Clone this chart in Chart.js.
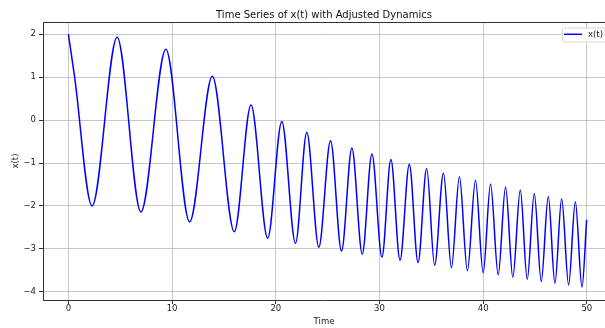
<!DOCTYPE html>
<html>
<head>
<meta charset="utf-8">
<script src="https://cdn.jsdelivr.net/npm/chart.js@4.4.1/dist/chart.umd.min.js"></script>
<style>
  body { margin: 0; background: #fff; }
</style>
</head>
<body>
<canvas id="myChart" width="605" height="328"></canvas>
<script>
// values: peaks and troughs of x(t)
const tVals = [0, 0.6, 2.28, 4.70, 6.99, 9.40, 11.69, 13.88, 16.0, 17.61, 19.22, 20.58, 21.90, 22.99,
  24.15, 25.28, 26.34, 27.34, 28.34, 29.27, 30.24, 31.1, 31.98, 32.88, 33.72, 34.55, 35.32, 36.17,
  36.94, 37.71, 38.48, 39.26, 40.0, 40.71, 41.45, 42.16, 42.86, 43.58, 44.25, 44.93, 45.60, 46.28,
  46.92, 47.57, 48.24, 48.89, 49.53, 49.98]
const xVals = [2.0, 1.0, -2.0, 1.93, -2.14, 1.65, -2.37, 1.02, -2.60, 0.35, -2.75, -0.03, -2.87, -0.29,
  -2.96, -0.48, -3.05, -0.65, -3.12, -0.79, -3.19, -0.92, -3.26, -1.03, -3.32, -1.13, -3.38, -1.23,
  -3.44, -1.32, -3.51, -1.40, -3.56, -1.49, -3.60, -1.56, -3.66, -1.63, -3.71, -1.71, -3.76, -1.78,
  -3.80, -1.83, -3.84, -1.90, -3.89, -2.32]
const xTicks = [0, 10, 20, 30, 40, 50]
const yTicks = [-4, -3, -2, -1, 0, 1, 2]

const points = tVals.map((t, i) => ({x: t, y: xVals[i]}))
const fontFam = "'DejaVu Sans', sans-serif"
const minus = v => String(v).replace('-', '\u2212')

// matplotlib style top frame line + legend box
const frameAndLegend = {
  id: 'frameAndLegend',
  afterDraw(chart) {
    const ctx = chart.ctx
    const a = chart.chartArea
    ctx.save()
    ctx.strokeStyle = '#333'
    ctx.lineWidth = 1
    ctx.beginPath()
    ctx.moveTo(a.left, a.top + 0.5)
    ctx.lineTo(a.right, a.top + 0.5)
    ctx.stroke()

    const lx = 562, ly = 27.5, lw = 50, lh = 14
    ctx.fillStyle = 'rgba(255,255,255,0.85)'
    ctx.strokeStyle = '#d6d6d6'
    ctx.beginPath()
    ctx.roundRect(lx + 0.5, ly + 0.5, lw, lh, 2)
    ctx.fill()
    ctx.stroke()

    const ds = chart.data.datasets[0]
    ctx.strokeStyle = ds.borderColor
    ctx.lineWidth = 1.5
    ctx.beginPath()
    ctx.moveTo(564, 34.3)
    ctx.lineTo(582, 34.3)
    ctx.stroke()
    ctx.fillStyle = '#222'
    ctx.font = "8.5px " + fontFam
    ctx.textBaseline = 'middle'
    ctx.fillText(ds.label, 588, 34.5)
    ctx.restore()
  }
}

const config = {
  type: 'line',
  data: {
    datasets: [{
      label: 'x(t)',
      data: points,
      borderColor: '#0000ff',
      borderWidth: 1.5,
      pointRadius: 0,
      fill: false,
      cubicInterpolationMode: 'monotone'
    }]
  },
  options: {
    responsive: false,
    animation: false,
    layout: { padding: 0 },
    plugins: {
      legend: { display: false },
      tooltip: { enabled: false },
      title: {
        display: true,
        text: 'Time Series of x(t) with Adjusted Dynamics',
        fullSize: false,
        color: '#111',
        font: { family: fontFam, size: 10, weight: 'normal' },
        padding: { top: 9, bottom: 1 }
      }
    },
    scales: {
      x: {
        type: 'linear',
        min: -2.45,
        max: 51.75,
        afterFit: s => { s.height = 28 },
        afterBuildTicks: s => { s.ticks = xTicks.map(v => ({value: v})) },
        grid: { color: 'rgba(176,176,176,0.7)', tickColor: '#333', tickLength: 4 },
        border: { color: '#333', width: 1 },
        ticks: { color: '#222', padding: 0, maxRotation: 0, font: { family: fontFam, size: 8.5 }, callback: v => minus(v) },
        title: { display: true, text: 'Time', color: '#222', padding: { top: 0, bottom: 1 }, font: { family: fontFam, size: 8.5 } }
      },
      y: {
        type: 'linear',
        min: -4.19,
        max: 2.285,
        afterFit: s => { s.width = 43 },
        afterBuildTicks: s => { s.ticks = yTicks.map(v => ({value: v})) },
        grid: { color: 'rgba(176,176,176,0.7)', tickColor: '#333', tickLength: 4 },
        border: { color: '#333', width: 1 },
        ticks: { color: '#222', padding: 3, font: { family: fontFam, size: 8.5 }, callback: v => minus(v) },
        title: { display: true, text: 'x(t)', color: '#222', padding: { top: 10.5, bottom: 0 }, font: { family: fontFam, size: 8.5 } }
      }
    }
  },
  plugins: [frameAndLegend]
}

const myChart = new Chart(document.getElementById('myChart'), config)
</script>
</body>
</html>
